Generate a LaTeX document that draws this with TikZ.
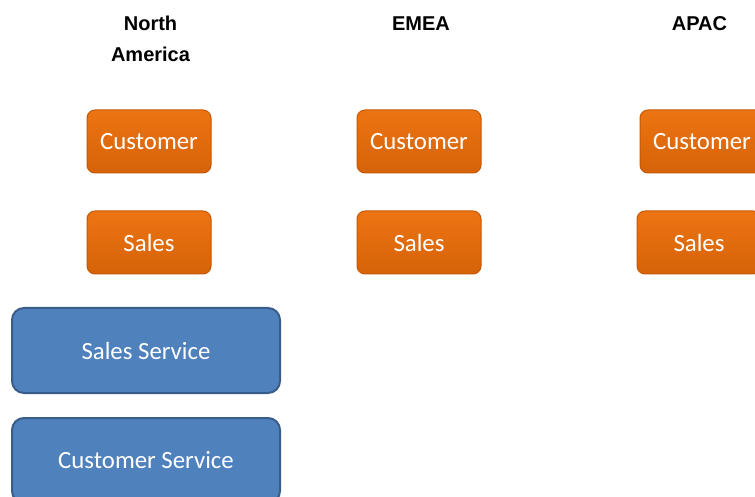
\documentclass[tikz,border=0pt]{standalone}
\usepackage{fontspec}
\setmainfont{Carlito}
\newfontfamily\headfont{Liberation Sans}
\usepackage{tikz}
\usepackage{xcolor}

\definecolor{orangetop}{RGB}{236,116,18}
\definecolor{orangebot}{RGB}{214,99,8}
\definecolor{orangeline}{RGB}{196,88,6}
\definecolor{bluefill}{RGB}{79,129,189}
\definecolor{blueline}{RGB}{56,93,138}

\begin{document}
\begin{tikzpicture}[x=0.5pt,y=-0.5pt,
    region/.style={font=\headfont\bfseries\fontsize{10}{15.5}\selectfont,align=center},
    orangebox/.style={rounded corners=4pt,top color=orangetop,bottom color=orangebot,draw=orangeline,line width=0.5pt,
      minimum width=62pt,minimum height=31.5pt,text=white,font=\fontsize{12.4}{14}\selectfont},
    bluebox/.style={rounded corners=6pt,fill=bluefill,draw=blueline,line width=1pt,
      minimum width=134pt,minimum height=42.5pt,text=white,font=\fontsize{12.4}{14}\selectfont}]
    \useasboundingbox (0,0) rectangle (755,497);
    \clip (0,0) rectangle (755,497);

    % region headings
    \node[region] (hNA) at (150.5,39) {North\\America};
    \node[region] (hEMEA) at (421,23.5) {EMEA};
    \node[region] (hAPAC) at (699.5,23.5) {APAC};

    % regional boxes
    \node[orangebox] (naCust) at (149,141.5) {Customer};
    \node[orangebox] (naSales) at (149,242.5) {Sales};
    \node[orangebox] (emeaCust) at (419,141.5) {Customer};
    \node[orangebox] (emeaSales) at (419,242.5) {Sales};
    \node[orangebox] (apacCust) at (702,141.5) {Customer};
    \node[orangebox] (apacSales) at (699,242.5) {Sales};

    % shared services
    \node[bluebox] (salesSrv) at (146,350.5) {Sales Service};
    \node[bluebox] (custSrv) at (146,460.5) {Customer Service};
\end{tikzpicture}
\end{document}
